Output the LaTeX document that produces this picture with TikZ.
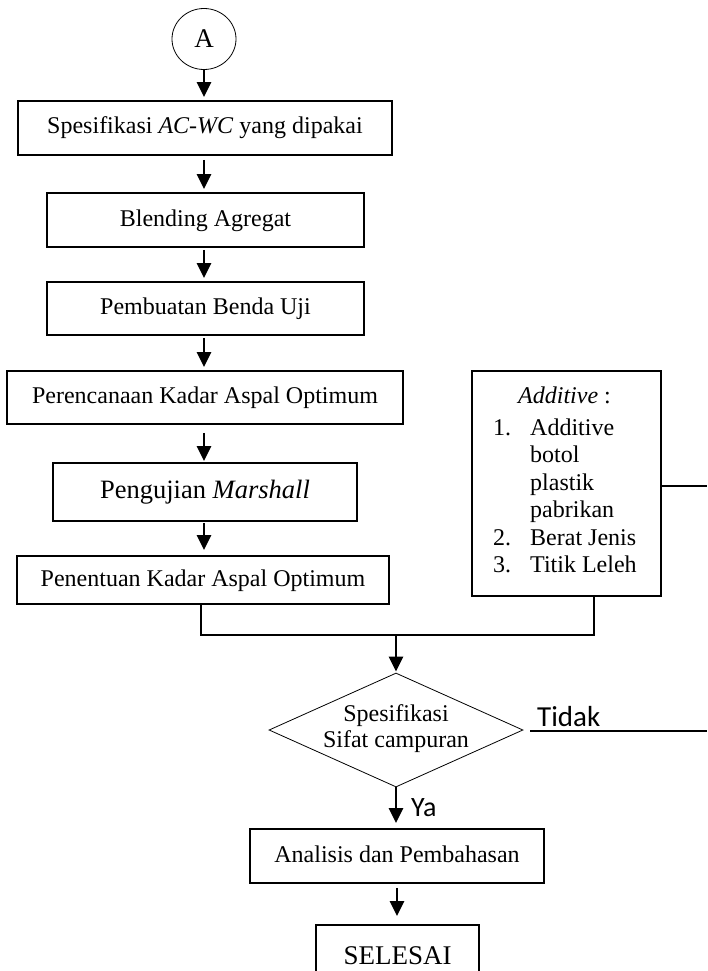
\documentclass[tikz,border=0pt]{standalone}
\usepackage{fontspec}
\setmainfont{Liberation Serif}
\newfontfamily\sansfnt{Carlito}
\usetikzlibrary{arrows.meta,shapes.geometric}
\begin{document}
\begin{tikzpicture}[x=1pt,y=-1pt,
  box/.style={draw,line width=1.7pt,rectangle,inner sep=0pt,font=\fontsize{24}{27.5}\selectfont,text height=17pt,text depth=5pt},
  flow/.style={line width=2.8pt,-{Triangle[length=15pt,width=14pt]},shorten <=2pt,shorten >=3pt},
  conn/.style={line width=1.9pt},
]
\useasboundingbox (0,0) rectangle (707,971);
\fill[white] (0,0) rectangle (707,971);

\node[draw,ellipse,line width=0.8pt,minimum width=64pt,minimum height=61pt,inner sep=0pt,font=\fontsize{27}{30}\selectfont] (A) at (204,39) {A};
\node[box,minimum width=374pt,minimum height=54pt] (b1) at (205,128) {Spesifikasi \textit{AC-WC} yang dipakai};
\node[box,minimum width=317pt,minimum height=54pt] (b2) at (205.5,220) {Blending Agregat};
\node[box,minimum width=317pt,minimum height=53pt] (b3) at (205.5,308.5) {Pembuatan Benda Uji};
\node[box,minimum width=396pt,minimum height=53pt] (b4) at (205,397.5) {Perencanaan Kadar Aspal Optimum};
\node[box,minimum width=304pt,minimum height=58pt,font=\fontsize{26.5}{30}\selectfont,text height=18.5pt,text depth=6pt] (b5) at (205,492) {Pengujian \textit{Marshall}};
\node[box,minimum width=372pt,minimum height=48pt] (b6) at (203,580) {Penentuan Kadar Aspal Optimum};

\node[draw,line width=1.7pt,rectangle,minimum width=189pt,minimum height=225pt,inner sep=0pt] (add) at (566.5,483.5) {};
\node[anchor=north west,inner sep=0pt,font=\fontsize{24}{27.5}\selectfont] (addtxt) at (493,383.75)
 {\begin{tabular}{@{}l@{\hspace{19pt}}l@{}}
  \multicolumn{2}{@{}l@{}}{\hspace{25pt}\textit{Additive} :}\\[4.5pt]
  1. & Additive\\
     & botol\\
     & plastik\\
     & pabrikan\\
  2. & Berat Jenis\\
  3. & Titik Leleh
  \end{tabular}};

\node[draw,diamond,line width=0.8pt,minimum width=254pt,minimum height=114pt,inner sep=0pt] (dia) at (396,730) {};
\node[align=center,inner sep=0pt,font=\fontsize{24}{26}\selectfont] (diatxt) at (396,728.5) {Spesifikasi\\Sifat campuran};

\node[box,minimum width=294pt,minimum height=54pt] (ana) at (397,856) {Analisis dan Pembahasan};
\node[box,minimum width=163pt,minimum height=60pt,font=\fontsize{27}{30}\selectfont,text height=18pt,text depth=0pt] (sel) at (397.5,955) {SELESAI};

\node[anchor=base west,inner sep=0pt,font=\sansfnt\fontsize{29}{32}\selectfont] (tidak) at (537,726) {Tidak};
\node[anchor=base west,inner sep=0pt,font=\sansfnt\fontsize{28}{31}\selectfont] (ya) at (411,816) {Ya};

\coordinate (jn) at (396,635);
\coordinate (addb) at (594,596);
\coordinate (r1) at (707,486);
\coordinate (t0) at (530,731);
\coordinate (t1) at (707,731);

\draw[flow,shorten <=0pt] (A.south) -- (A.south |- b1.north);
\draw[flow,shorten <=4pt] (b1.south -| A) -- (b2.north -| A);
\draw[flow] (b2.south -| A) -- (b3.north -| A);
\draw[flow] (b3.south -| A) -- (b4.north -| A);
\draw[flow,shorten <=8pt,shorten >=1pt] (b4.south -| A) -- (b5.north -| A);
\draw[flow,shorten <=1pt,shorten >=5pt] (b5.south -| A) -- (b6.north -| A);

\draw[conn] (b6.south -| 201,0) |- (jn) -| (addb);
\draw[conn] (add.east |- r1) -- (r1);
\draw[flow,shorten <=0pt,shorten >=1pt] (jn) -- (dia.north);
\draw[line width=2.6pt] (t0) -- (t1);
\draw[flow,shorten <=0pt,shorten >=5pt] (dia.south) -- (dia.south |- ana.north);
\draw[flow,shorten <=4pt,shorten >=8pt] (ana.south) -- (ana.south |- sel.north);
\end{tikzpicture}
\end{document}
